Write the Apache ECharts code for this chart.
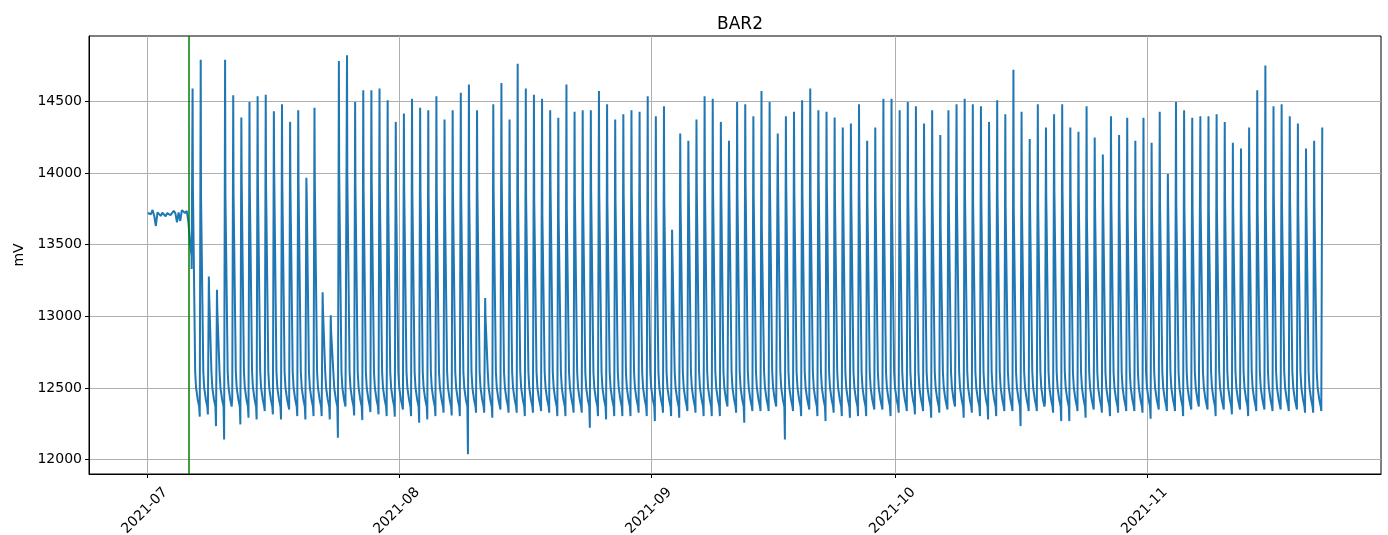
<!DOCTYPE html>
<html><head><meta charset="utf-8">
<script src="https://cdn.jsdelivr.net/npm/echarts@6/dist/echarts.min.js"></script>
<style>html,body{margin:0;padding:0;background:#fff}#c{width:1388px;height:535px}</style>
</head><body><div id="c"></div>
<script>
// x values are days since 2021-07-01 00:00
const monthDays = [0, 31, 62, 92, 123];
const monthLabels = ['2021-07', '2021-08', '2021-09', '2021-10', '2021-11'];
const yTicks = [12000, 12500, 13000, 13500, 14000, 14500];
const greenLineDay = 5.05;

// float-charge period, samples every 0.2 day from day 0
const flatStep = 0.2;
const flatValues = [13720, 13730, 13712, 13742, 13700, 13630, 13725, 13730, 13700, 13722,
  13735, 13698, 13720, 13730, 13705, 13700, 13735, 13720, 13655, 13725,
  13665, 13740, 13748, 13720, 13735, 13660, 13510, 13420];

// daily cycles from day 5 to day 144
const firstDay = 5;
const peaks = [14588, 14790, 13278, 13185, 14790, 14542, 14386, 14495, 14535, 14546,
  14430, 14479, 14356, 14437, 13967, 14454, 13167, 13007, 14781, 14820,
  14495, 14577, 14577, 14588, 14507, 14356, 14414, 14518, 14454, 14437,
  14535, 14373, 14437, 14560, 14616, 14437, 13127, 14479, 14628, 14373,
  14762, 14588, 14546, 14518, 14437, 14384, 14616, 14426, 14437, 14437,
  14572, 14479, 14373, 14410, 14437, 14426, 14535, 14396, 14465, 13603,
  14275, 14224, 14373, 14535, 14518, 14356, 14224, 14495, 14479, 14396,
  14572, 14495, 14275, 14396, 14426, 14507, 14588, 14437, 14426, 14386,
  14317, 14345, 14479, 14224, 14317, 14518, 14518, 14437, 14495, 14465,
  14345, 14437, 14264, 14437, 14479, 14518, 14479, 14465, 14356, 14507,
  14410, 14720, 14426, 14236, 14479, 14317, 14410, 14479, 14317, 14287,
  14465, 14247, 14129, 14396, 14264, 14384, 14224, 14384, 14210, 14426,
  13992, 14495, 14437, 14384, 14396, 14396, 14410, 14356, 14210, 14171,
  14317, 14577, 14750, 14465, 14479, 14396, 14345, 14171, 14224, 14317];
const shoulders = [13904, 13834, 13150, 13050, 13850, 13850, 13950, 13900, 13927, 13915,
  14020, 13927, 13904, 13904, 13850, 13927, 13050, 12900, 13985, 13975,
  13904, 13880, 13939, 13880, 13962, 13880, 13880, 13857, 13880, 13834,
  13834, 13850, 13850, 13880, 13811, 13892, 13000, 13869, 13939, 13850,
  13857, 13823, 13800, 13707, 13927, 13695, 13730, 13834, 13850, 13869,
  13846, 13788, 13800, 13850, 13850, 13834, 13707, 13800, 13800, 13450,
  13800, 13927, 13869, 13927, 13880, 13915, 13880, 13850, 13939, 13834,
  13620, 13915, 13915, 13927, 13869, 13850, 13823, 13927, 13915, 13811,
  13880, 13846, 13846, 13776, 13776, 13869, 13850, 13753, 13904, 13788,
  13823, 13850, 13626, 13823, 13857, 13846, 13776, 13846, 13904, 13834,
  13753, 13742, 13788, 13788, 13788, 13834, 13869, 13869, 13823, 13823,
  13684, 13776, 13776, 13811, 13765, 13730, 13695, 13742, 13776, 13776,
  13765, 13776, 13742, 13742, 13742, 13742, 13730, 13811, 13742, 13730,
  13730, 13750, 13776, 13823, 13800, 13800, 13730, 13788, 13753, 13750];
const troughs = [13330, 12300, 12315, 12234, 12141, 12430, 12246, 12292, 12281, 12339,
  12316, 12281, 12350, 12304, 12281, 12304, 12304, 12281, 12153, 12373,
  12308, 12276, 12332, 12316, 12304, 12300, 12350, 12304, 12258, 12281,
  12304, 12327, 12308, 12304, 12037, 12327, 12327, 12292, 12350, 12327,
  12327, 12304, 12327, 12339, 12327, 12304, 12304, 12327, 12327, 12223,
  12304, 12281, 12304, 12304, 12304, 12327, 12304, 12269, 12327, 12304,
  12292, 12339, 12327, 12304, 12304, 12304, 12373, 12327, 12258, 12339,
  12339, 12339, 12373, 12141, 12339, 12304, 12350, 12304, 12269, 12327,
  12304, 12292, 12304, 12304, 12350, 12350, 12304, 12327, 12339, 12316,
  12339, 12292, 12327, 12350, 12362, 12292, 12327, 12304, 12281, 12304,
  12339, 12339, 12234, 12339, 12339, 12396, 12327, 12269, 12269, 12339,
  12292, 12350, 12327, 12304, 12327, 12339, 12339, 12327, 12285, 12350,
  12339, 12339, 12304, 12350, 12373, 12350, 12304, 12350, 12316, 12350,
  12304, 12339, 12350, 12339, 12350, 12339, 12350, 12327, 12327, 12339];
// typical evening/night decay after the charge
const decayOffsets = [0.84, 0.95, 1.15, 1.33];
const decayValues = [12610, 12500, 12420, 12370];
const troughOffset = 0.40, peakOffset = 0.52, shoulderStart = 0.56, shoulderEnd = 0.80;

const data = [];
flatValues.forEach((v, i) => data.push([i * flatStep, v]));
for (let i = 0; i < peaks.length; i++) {
  const k = firstDay + i;
  data.push([k + troughOffset, troughs[i]]);
  data.push([k + peakOffset, peaks[i]]);
  if (i < peaks.length - 1) {
    data.push([k + shoulderStart, shoulders[i]]);
    data.push([k + shoulderEnd, shoulders[i]]);
    decayOffsets.forEach((o, j) => data.push([k + o, decayValues[j]]));
  }
}
const lastDay = data[data.length - 1][0];
const pad = lastDay * 0.05;

const font = 'DejaVu Sans';
const chart = echarts.init(document.getElementById('c'), null, {renderer: 'canvas'});
chart.setOption({
  animation: false,
  backgroundColor: '#fff',
  title: {text: 'BAR2', left: 735, top: 11, textAlign: 'center',
    textStyle: {fontSize: 17, fontWeight: 'normal', color: '#000', fontFamily: font}},
  grid: {left: 89, right: 7, top: 36, bottom: 61, show: true, borderColor: '#000', borderWidth: 1,
    containLabel: false, outerBoundsMode: 'none'},
  xAxis: {
    type: 'value', min: -pad, max: lastDay + pad,
    axisLine: {show: true, onZero: false, lineStyle: {color: '#000', width: 1}},
    axisTick: {show: true, customValues: monthDays, length: 4, lineStyle: {color: '#000', width: 1}},
    axisLabel: {customValues: monthDays, rotate: 45, align: 'center', verticalAlign: 'middle',
      margin: 34, padding: [0, 8, 0, 0], fontSize: 14, color: '#000', fontFamily: font,
      formatter: v => { const i = monthDays.indexOf(Math.round(v)); return i >= 0 ? monthLabels[i] : ''; }},
    splitLine: {show: true, lineStyle: {color: '#b0b0b0', width: 1}}
  },
  yAxis: {
    type: 'value', min: 11900, max: 14955,
    name: 'mV', nameLocation: 'middle', nameGap: 63,
    nameTextStyle: {fontSize: 14, color: '#000', fontFamily: font},
    axisLine: {show: true, onZero: false, lineStyle: {color: '#000', width: 1}},
    axisTick: {show: true, customValues: yTicks, length: 4, lineStyle: {color: '#000', width: 1}},
    axisLabel: {customValues: yTicks, margin: 7, fontSize: 14, color: '#000', fontFamily: font,
      formatter: v => String(v)},
    splitLine: {show: true, lineStyle: {color: '#b0b0b0', width: 1}}
  },
  series: [{
    type: 'line', data: data, showSymbol: false, symbol: 'none',
    lineStyle: {color: '#1f77b4', width: 2}, itemStyle: {color: '#1f77b4'},
    markLine: {silent: true, symbol: 'none', label: {show: false},
      lineStyle: {color: '#008000', width: 1.5, type: 'solid'},
      data: [{xAxis: greenLineDay}]}
  }]
});
</script></body></html>
